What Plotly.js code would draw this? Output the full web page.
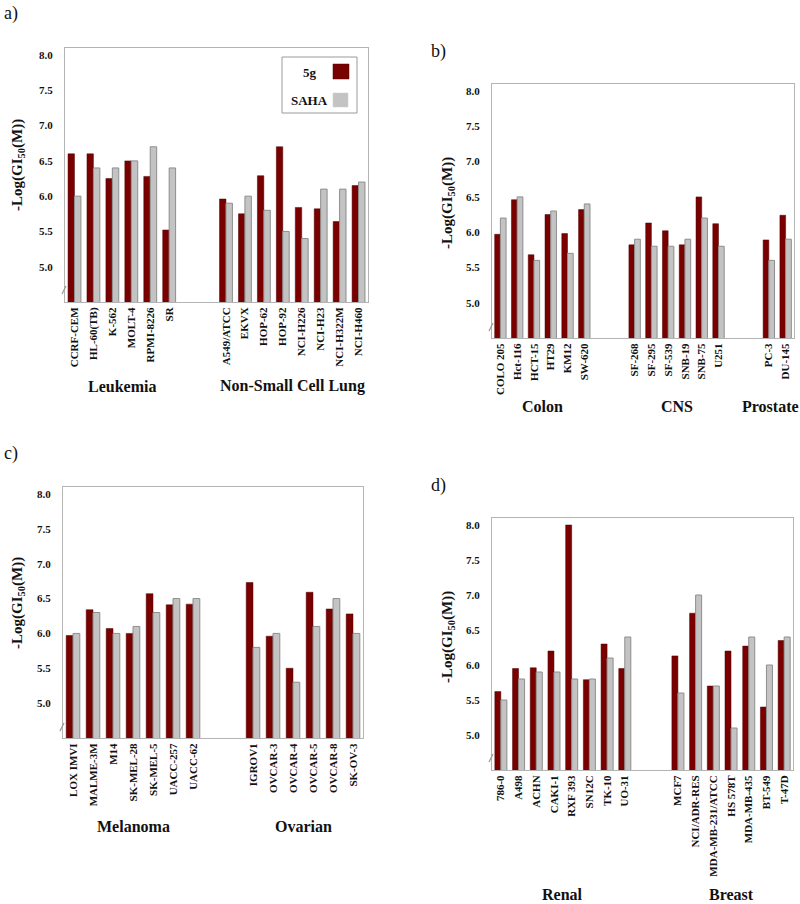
<!DOCTYPE html>
<html>
<head>
<meta charset="utf-8">
<script src="https://cdn.plot.ly/plotly-3.0.1.min.js"></script>
<style>html,body{margin:0;padding:0;background:#fff;}#chart{width:800px;height:904px;}</style>
</head>
<body>
<div id="chart"></div>
<script>
// ---------- DATA ----------
// Panel a
const leukemiaLines = ["CCRF-CEM","HL-60(TB)","K-562","MOLT-4","RPMI-8226","SR"];
const leukemia5g    = [6.60, 6.60, 6.25, 6.50, 6.28, 5.52];
const leukemiaSAHA  = [6.00, 6.40, 6.40, 6.50, 6.70, 6.40];
const nsclcLines = ["A549/ATCC","EKVX","HOP-62","HOP-92","NCI-H226","NCI-H23","NCI-H322M","NCI-H460"];
const nsclc5g    = [5.96, 5.75, 6.29, 6.70, 5.84, 5.82, 5.64, 6.15];
const nsclcSAHA  = [5.90, 6.00, 5.80, 5.50, 5.40, 6.10, 6.10, 6.20];
// Panel b
const colonLines = ["COLO 205","Hct-116","HCT-15","HT29","KM12","SW-620"];
const colon5g    = [5.97, 6.46, 5.68, 6.25, 5.98, 6.32];
const colonSAHA  = [6.20, 6.50, 5.60, 6.30, 5.70, 6.40];
const cnsLines = ["SF-268","SF-295","SF-539","SNB-19","SNB-75","U251"];
const cns5g    = [5.82, 6.13, 6.02, 5.82, 6.50, 6.12];
const cnsSAHA  = [5.90, 5.80, 5.80, 5.90, 6.20, 5.80];
const prostateLines = ["PC-3","DU-145"];
const prostate5g    = [5.89, 6.24];
const prostateSAHA  = [5.60, 5.90];
// Panel c
const melanomaLines = ["LOX IMVI","MALME-3M","M14","SK-MEL-28","SK-MEL-5","UACC-257","UACC-62"];
const melanoma5g    = [5.97, 6.34, 6.07, 6.00, 6.57, 6.41, 6.42];
const melanomaSAHA  = [6.00, 6.30, 6.00, 6.10, 6.30, 6.50, 6.50];
const ovarianLines = ["IGROV1","OVCAR-3","OVCAR-4","OVCAR-5","OVCAR-8","SK-OV-3"];
const ovarian5g    = [6.73, 5.96, 5.50, 6.59, 6.35, 6.28];
const ovarianSAHA  = [5.80, 6.00, 5.30, 6.10, 6.50, 6.00];
// Panel d
const renalLines = ["786-0","A498","ACHN","CAKI-1","RXF 393","SN12C","TK-10","UO-31"];
const renal5g    = [5.62, 5.95, 5.96, 6.20, 8.00, 5.79, 6.30, 5.95];
const renalSAHA  = [5.50, 5.80, 5.90, 5.90, 5.80, 5.80, 6.10, 6.40];
const breastLines = ["MCF7","NCI/ADR-RES","MDA-MB-231/ATCC","HS 578T","MDA-MB-435","BT-549","T-47D"];
const breast5g    = [6.13, 6.74, 5.70, 6.20, 6.27, 5.40, 6.35];
const breastSAHA  = [5.60, 7.00, 5.70, 5.10, 6.40, 6.00, 6.40];

const yTicks = [5.0, 5.5, 6.0, 6.5, 7.0, 7.5, 8.0];
const seriesNames = ["5g", "SAHA"];

// ---------- STYLE ----------
const W = 800, H = 904;
const RED = "#7a0000", GRAY = "#c3c3c3", GRAYLINE = "#8e8e8e", FRAME = "#b4b4b4";
const SERIF = "Liberation Serif";
const fx = x => x / W, fy = y => 1 - y / H;
const bold = s => "<b>" + s + "</b>";

const panels = [
  {id:"a", groups:[{name:"Leukemia",lines:leukemiaLines,g5:leukemia5g,sa:leukemiaSAHA},
                   {name:"Non-Small Cell Lung",lines:nsclcLines,g5:nsclc5g,sa:nsclcSAHA}],
   box:[65,48,368,302], labelY:386, labelShift:[0,0], titleXY:[18,165], letterXY:[11,13], brk:[64,290]},
  {id:"b", groups:[{name:"Colon",lines:colonLines,g5:colon5g,sa:colonSAHA},
                   {name:"CNS",lines:cnsLines,g5:cns5g,sa:cnsSAHA},
                   {name:"Prostate",lines:prostateLines,g5:prostate5g,sa:prostateSAHA}],
   box:[492,84,794,338], labelY:406, labelShift:[0,0,-7], titleXY:[448,203], letterXY:[439,52], brk:[491,327]},
  {id:"c", groups:[{name:"Melanoma",lines:melanomaLines,g5:melanoma5g,sa:melanomaSAHA},
                   {name:"Ovarian",lines:ovarianLines,g5:ovarian5g,sa:ovarianSAHA}],
   box:[63,487,363,738], labelY:826, labelShift:[0,0], titleXY:[18,603], letterXY:[11,454], brk:[62,727]},
  {id:"d", groups:[{name:"Renal",lines:renalLines,g5:renal5g,sa:renalSAHA},
                   {name:"Breast",lines:breastLines,g5:breast5g,sa:breastSAHA}],
   box:[492,518,793,770], labelY:894, labelShift:[0,0], titleXY:[448,637], letterXY:[439,485], brk:[491,758]}
];

const traces = [];
const layout = {
  width: W, height: H,
  margin: {l:0, r:0, t:0, b:0},
  paper_bgcolor: "#fff", plot_bgcolor: "#fff",
  showlegend: false,
  barmode: "group", bargap: 0.32, bargroupgap: 0,
  font: {family: SERIF, color: "#111"},
  annotations: [], shapes: []
};

panels.forEach((p, i) => {
  const n = i + 1;
  const xa = "x" + (n === 1 ? "" : n), ya = "y" + (n === 1 ? "" : n);
  const xKey = "xaxis" + (n === 1 ? "" : n), yKey = "yaxis" + (n === 1 ? "" : n);
  const cats = [], v5 = [], vS = [], centers = [], realCats = [];
  p.groups.forEach((g, gi) => {
    if (gi > 0) { for (let k = 0; k < 2; k++) { cats.push("gap" + gi + "_" + k); v5.push(null); vS.push(null); } }
    const start = cats.length;
    g.lines.forEach((c, j) => { cats.push(c); realCats.push(c); v5.push(g.g5[j]); vS.push(g.sa[j]); });
    centers.push({name: g.name, c: (start + cats.length - 1) / 2});
  });
  traces.push({type:"bar", name:seriesNames[0], x:cats, y:v5, xaxis:xa, yaxis:ya,
    marker:{color:RED, line:{color:"#4d0000", width:0.5}}, hoverinfo:"x+y"});
  traces.push({type:"bar", name:seriesNames[1], x:cats, y:vS, xaxis:xa, yaxis:ya,
    marker:{color:GRAY, line:{color:GRAYLINE, width:1}}, hoverinfo:"x+y"});
  const [x0, y0, x1, y1] = p.box;
  layout[xKey] = {
    domain:[fx(x0), fx(x1)], anchor:ya, type:"category",
    categoryorder:"array", categoryarray:cats, range:[-0.5, cats.length - 0.5],
    tickmode:"array", tickvals:realCats, ticktext:realCats.map(bold),
    tickangle:-90, tickfont:{family:SERIF, size:11, color:"#111"},
    showline:true, mirror:true, linecolor:FRAME, linewidth:1,
    showgrid:false, zeroline:false, ticks:"", fixedrange:true
  };
  layout[yKey] = {
    domain:[fy(y1), fy(y0)], anchor:xa, range:[4.5, 8.1],
    tickmode:"array", tickvals:yTicks, ticktext:yTicks.map(v => bold(v.toFixed(1))),
    tickfont:{family:SERIF, size:11, color:"#111"},
    showline:true, mirror:true, linecolor:FRAME, linewidth:1,
    showgrid:false, zeroline:false, ticks:"", ticklabelstandoff:9, fixedrange:true
  };
  centers.forEach((g, gi) => layout.annotations.push({
    xref:xa, yref:"paper", x:g.c, y:fy(p.labelY), xshift:p.labelShift[gi] || 0,
    text:bold(g.name),
    showarrow:false, font:{family:SERIF, size:16, color:"#111"}, xanchor:"center", yanchor:"middle"
  }));
  layout.annotations.push({
    xref:"paper", yref:"paper", x:fx(p.titleXY[0]), y:fy(p.titleXY[1]),
    text:"<b>-Log(GI<sub>50</sub>(M))</b>", textangle:-90, showarrow:false,
    font:{family:SERIF, size:15, color:"#111"}, xanchor:"center", yanchor:"middle"
  });
  layout.annotations.push({
    xref:"paper", yref:"paper", x:fx(p.letterXY[0]), y:fy(p.letterXY[1]),
    text:p.id + ")", showarrow:false, font:{family:SERIF, size:18, color:"#111"},
    xanchor:"center", yanchor:"middle"
  });
  const [bx, by] = p.brk;
  layout.shapes.push({type:"line", xref:"paper", yref:"paper",
    x0:fx(bx - 2), y0:fy(by + 4), x1:fx(bx + 2), y1:fy(by - 4),
    line:{color:"#999", width:1.2}});
});

// custom legend in panel a (label left, swatch right)
layout.shapes.push({type:"rect", xref:"paper", yref:"paper",
  x0:fx(282), y0:fy(113), x1:fx(357), y1:fy(57), line:{color:"#9a9a9a", width:1}, fillcolor:"#fff"});
layout.shapes.push({type:"rect", xref:"paper", yref:"paper",
  x0:fx(333), y0:fy(79), x1:fx(349), y1:fy(64), line:{color:"#4d0000", width:0.5}, fillcolor:RED});
layout.shapes.push({type:"rect", xref:"paper", yref:"paper",
  x0:fx(333), y0:fy(107), x1:fx(348), y1:fy(93), line:{color:"#c8c8c8", width:0.5}, fillcolor:GRAY});
layout.annotations.push({xref:"paper", yref:"paper", x:fx(310), y:fy(72), text:bold(seriesNames[0]),
  showarrow:false, font:{family:SERIF, size:13, color:"#111"}, xanchor:"center", yanchor:"middle"});
layout.annotations.push({xref:"paper", yref:"paper", x:fx(309), y:fy(101), text:bold(seriesNames[1]),
  showarrow:false, font:{family:SERIF, size:13, color:"#111"}, xanchor:"center", yanchor:"middle"});

Plotly.newPlot("chart", traces, layout, {displayModeBar:false, staticPlot:true});
</script>
</body>
</html>
